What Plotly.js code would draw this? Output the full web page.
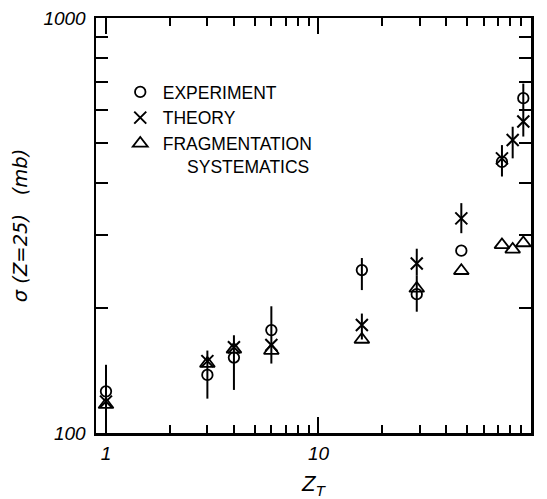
<!DOCTYPE html>
<html>
<head>
<meta charset="utf-8">
<script src="https://cdn.plot.ly/plotly-3.0.1.min.js"></script>
<style>html,body{margin:0;padding:0;background:#fff;}#chart{width:547px;height:499px;}</style>
</head>
<body>
<div id="chart"></div>
<script>
// Target charge Z_T
const zExp = [1, 3, 4, 6, 16, 29, 47, 73, 92];
const sigmaExp = [126, 138, 152, 177, 247, 216, 275, 450, 641];
const errExpPlus = [20, 20, 20, 25, 17, 24, 0, 44, 54];
const errExpMinus = [23, 17, 25, 30, 26, 20, 0, 35, 41];

const zTheory = [1, 3, 4, 6, 16, 29, 47, 73, 82, 92];
const sigmaTheory = [119, 149, 161, 163, 182, 256, 329, 459, 508, 563];
const errThPlus = [0, 0, 0, 0, 12, 22, 29, 0, 39, 37];
const errThMinus = [0, 0, 0, 0, 14, 16, 26, 0, 49, 45];

const zFrag = [1, 3, 4, 6, 16, 29, 47, 73, 82, 92];
const sigmaFrag = [117, 147, 159, 158, 168, 223, 246, 284, 277, 287];

const xTickVals = [1, 10, 100];
const xTickText = ['1', '10', '100'];
const xMinorVals = [2,3,4,5,6,7,8,9,20,30,40,50,60,70,80,90];
const yTickVals = [100, 1000];
const yTickText = ['100', '1000'];
const yMinorVals = [200,300,400,500,600,700,800,900];

const legendNames = ['EXPERIMENT', 'THEORY', 'FRAGMENTATION<br>&nbsp;&nbsp;&nbsp;&nbsp;&nbsp;SYSTEMATICS'];

const black = '#000';
const traces = [
  {
    x: zExp, y: sigmaExp, name: legendNames[0], mode: 'markers', type: 'scatter',
    marker: {symbol: 'circle-open', size: 10.5, color: black, line: {width: 1.8, color: black}},
    error_y: {type: 'data', symmetric: false, array: errExpPlus, arrayminus: errExpMinus,
      color: black, thickness: 2, width: 0}
  },
  {
    x: zTheory, y: sigmaTheory, name: legendNames[1], mode: 'markers', type: 'scatter',
    marker: {symbol: 'x-thin-open', size: 12, color: black, line: {width: 2, color: black}},
    error_y: {type: 'data', symmetric: false, array: errThPlus, arrayminus: errThMinus,
      color: black, thickness: 2, width: 0}
  },
  {
    x: zFrag, y: sigmaFrag, name: legendNames[2], mode: 'markers', type: 'scatter',
    marker: {symbol: 'triangle-up-open', size: 13, color: black, line: {width: 1.8, color: black}}
  }
];

const tickFont = {family: 'Liberation Sans, Arial, sans-serif', size: 19, color: black, style: 'italic'};

const layout = {
  width: 547, height: 499,
  margin: {l: 96, r: 16, t: 18, b: 66},
  paper_bgcolor: '#fff', plot_bgcolor: '#fff',
  showlegend: true,
  legend: {
    x: 0.05, y: 0.865, xanchor: 'left', yanchor: 'top',
    bgcolor: 'rgba(0,0,0,0)', borderwidth: 0,
    font: {family: 'Liberation Sans, Arial, sans-serif', size: 17.5, color: black},
    tracegroupgap: 0, valign: 'top', itemwidth: 35
  },
  xaxis: {
    type: 'log', range: [-0.047, 2.0],
    showgrid: false, zeroline: false,
    showline: true, linewidth: 2.5, linecolor: black, mirror: 'ticks',
    ticks: 'inside', ticklen: 16, tickwidth: 2, tickcolor: black,
    tickmode: 'array', tickvals: xTickVals, ticktext: xTickText,
    tickfont: tickFont, ticklabelstandoff: 2,
    minor: {tickmode: 'array', tickvals: xMinorVals, ticks: 'inside', ticklen: 8, tickwidth: 2, tickcolor: black, showgrid: false},
    title: {text: 'Z<sub>T</sub>', font: {family: 'Liberation Sans, Arial, sans-serif', size: 22, color: black, style: 'italic'}, standoff: 14}
  },
  yaxis: {
    type: 'log', range: [2, 3],
    showgrid: false, zeroline: false,
    showline: true, linewidth: 2.5, linecolor: black, mirror: 'ticks',
    ticks: 'inside', ticklen: 12, tickwidth: 2, tickcolor: black,
    tickmode: 'array', tickvals: yTickVals, ticktext: yTickText,
    tickfont: tickFont, ticklabelstandoff: 4,
    minor: {tickmode: 'array', tickvals: yMinorVals, ticks: 'inside', ticklen: 12, tickwidth: 2, tickcolor: black, showgrid: false},
    title: {text: 'σ (Z=25)&nbsp;&nbsp;&nbsp;(mb)', font: {family: 'DejaVu Sans, sans-serif', size: 19.5, color: black, style: 'italic'}, standoff: 11}
  }
};

Plotly.newPlot('chart', traces, layout, {displayModeBar: false, staticPlot: true});
</script>
</body>
</html>
